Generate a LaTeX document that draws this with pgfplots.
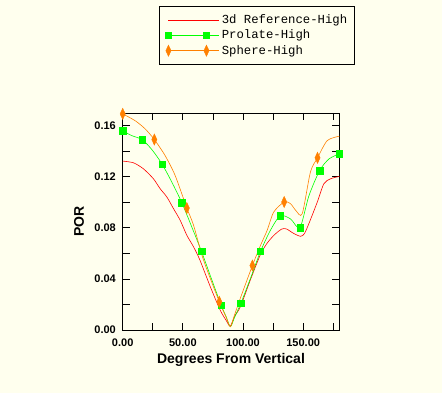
\documentclass[border=0pt]{standalone}
\usepackage{fontspec}
\setmainfont{Liberation Sans}
\newfontfamily\monofont{Liberation Mono}
\usepackage{pgfplots}
\pgfplotsset{compat=1.18}
\definecolor{bgc}{RGB}{255,255,238}
\definecolor{cred}{RGB}{255,0,0}
\definecolor{cgreen}{RGB}{0,255,0}
\definecolor{corange}{RGB}{255,128,0}
\begin{document}
\begin{tikzpicture}
\fill[bgc] (0pt,0pt) rectangle (442pt,393pt);
\begin{axis}[
  at={(122.7pt,63pt)}, anchor=south west,
  scale only axis, width=216.6pt, height=217pt,
  xmin=0, xmax=180, ymin=0, ymax=0.17,
  clip=false,
  axis line style={line width=0.9pt},
  tick align=inside, xtick pos=both, ytick pos=both,
  major tick length=7pt, minor tick length=7pt,
  every tick/.style={black, line width=0.8pt},
  xtick={0,50,100,150}, minor xtick={25,75,125,175},
  xticklabels={0.00,50.00,100.00,150.00},
  ytick={0,0.04,0.08,0.12,0.16}, minor ytick={0.02,0.06,0.10,0.14},
  yticklabels={0.00,0.04,0.08,0.12,0.16},
  tick label style={font=\bfseries\fontsize{11}{11}\selectfont},
  xticklabel style={yshift=-5.5pt},
  yticklabel style={xshift=-3.3pt},
  xlabel={Degrees From Vertical}, ylabel={POR},
  label style={font=\bfseries\fontsize{14}{14}\selectfont},
  xlabel style={at={(axis description cs:0.5,-0.138)}, anchor=center},
  ylabel style={at={(axis description cs:-0.2018,0.5)}, anchor=center},
  legend style={at={(axis description cs:0.169,1.493)}, anchor=north west,
    draw=black, line width=0.9pt, fill=none,
    font=\monofont\fontsize{12.3}{12.3}\selectfont,
    inner xsep=5.5pt, inner ysep=6.2pt, row sep=1pt},
  legend cell align=left,
  legend image code/.code={\draw[#1, mark indices={1,2}] plot coordinates {(0pt,0pt) (38pt,0pt)};
    \path (0pt,0pt) -- (51pt,0pt);},
]
\addplot[cred, line width=0.6pt, smooth, tension=0.45, mark=none] coordinates {
(0,0.1323) (8.9,0.131) (17.2,0.1263) (25.5,0.1185) (31.1,0.1107) (36.7,0.1042)
(42.2,0.0951) (47.8,0.0859) (53.3,0.0742) (58.9,0.0651) (64.2,0.0547) (72.8,0.0339) (81,0.0156)
(86,0.0075) (89.4,0.003) (93,0.0108) (97.8,0.0182) (106,0.039) (114.4,0.059) (120,0.068) (126,0.0745)
(132,0.079) (136,0.0792) (142,0.0757) (147.8,0.0734) (151,0.0755) (155,0.084)
(161.7,0.1002) (167.2,0.1146) (172.8,0.1185) (180,0.1203)
};
\addlegendentry{3d Reference-High}
\addplot[cgreen, line width=0.6pt, smooth, tension=0.45, mark=square*, mark size=3.2pt,
  mark indices={1,3,5,7,9,11,15,17,19,21,23,25}, mark options={fill=cgreen, draw=cgreen, line width=0.4pt}] coordinates {
(0,0.156) (7.5,0.1523) (16.4,0.149) (24.5,0.141) (32.7,0.130) (40.8,0.1159)
(49.1,0.0998) (57.3,0.081) (65.5,0.0615) (73.6,0.0405) (81.8,0.0195) (86,0.0103) (89.5,0.0026) (93,0.0100)
(98.2,0.0209) (106.4,0.041) (114.5,0.0615) (122.7,0.078) (130.9,0.0895) (139.5,0.087)
(147.3,0.0802) (154.7,0.105) (163.6,0.1248) (171.4,0.134) (180,0.138)
};
\addlegendentry{Prolate-High}
\addplot[corange, line width=0.6pt, smooth, tension=0.45, mark=diamond*, mark size=3.5pt,
  mark indices={1,4,7,10,15,19,24}, mark options={fill=corange, draw=corange, yscale=1.6, line width=0.4pt}] coordinates {
(0,0.1693) (10.3,0.164) (18.6,0.1576) (26.3,0.1492) (35.2,0.1367) (43.6,0.121)
(53.3,0.0955) (58.9,0.082) (67.2,0.0547) (80.3,0.0221) (86,0.0100) (89.5,0.0026) (93,0.012) (98,0.0255)
(107.8,0.0505) (114.4,0.066) (120,0.078) (125.5,0.0924) (134.2,0.1003) (139.4,0.099)
(144,0.0935) (149.2,0.0911) (156,0.1237) (161.9,0.1349) (170,0.1484) (180,0.1518)
};
\addlegendentry{Sphere-High}
\end{axis}
\end{tikzpicture}
\end{document}
